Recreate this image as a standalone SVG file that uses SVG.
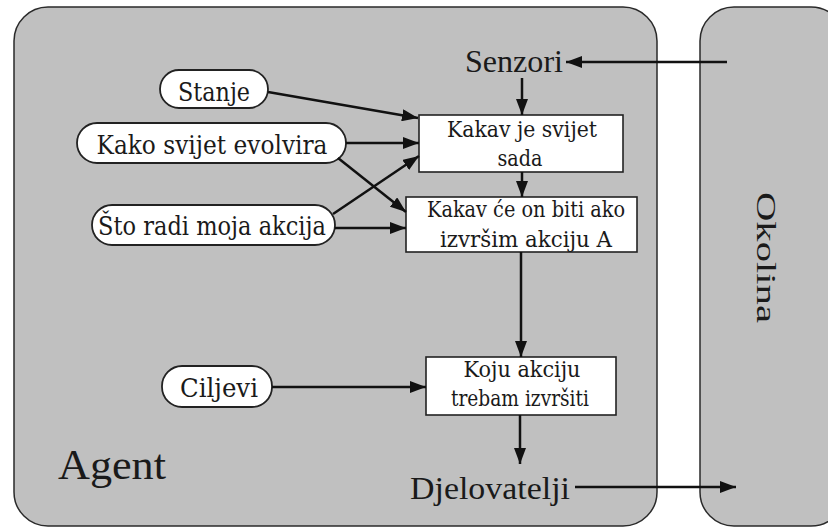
<svg xmlns="http://www.w3.org/2000/svg" width="828" height="528" viewBox="0 0 828 528">
<style>
.region{fill:#c0c0c0;stroke:#2a2a2a;stroke-width:1.5;}
.pill{fill:#ffffff;stroke:#222;stroke-width:1.8;}
.box{fill:#ffffff;stroke:#222;stroke-width:1.6;}
.conn line{stroke:#111;stroke-width:2.5;marker-end:url(#ah);}
</style>
<defs>
<marker id="ah" markerUnits="userSpaceOnUse" markerWidth="18" markerHeight="12" refX="16" refY="6" orient="auto">
<path d="M0,0 L16,6 L0,12 z" fill="#111"/>
</marker>
</defs>
<rect width="828" height="528" fill="#ffffff"/>
<g font-family="Times New Roman, serif" fill="#1a1a1a">
<g id="agent">
<rect class="region" x="14" y="7" width="643" height="519" rx="34" ry="34"/>
<text font-size="42" text-anchor="middle" x="112" y="479" textLength="108" lengthAdjust="spacingAndGlyphs">Agent</text>
</g>
<g id="okolina">
<rect class="region" x="700" y="7" width="145" height="519" rx="34" ry="34"/>
<text font-size="28" transform="translate(757,192) rotate(90)" textLength="131" lengthAdjust="spacingAndGlyphs">Okolina</text>
</g>
<g id="senzori">
<text font-size="32" text-anchor="middle" x="514" y="72" textLength="98" lengthAdjust="spacingAndGlyphs">Senzori</text>
</g>
<g id="djelovatelji">
<text font-size="32" text-anchor="middle" x="490" y="499" textLength="160" lengthAdjust="spacingAndGlyphs">Djelovatelji</text>
</g>
</g>
<g font-family="DejaVu Serif, serif" fill="#1a1a1a">
<g id="stanje">
<rect class="pill" x="160" y="70" width="108" height="38" rx="19"/>
<text font-size="26" text-anchor="middle" x="214" y="101" textLength="72" lengthAdjust="spacingAndGlyphs">Stanje</text>
</g>
<g id="kako">
<rect class="pill" x="77" y="123" width="269" height="40" rx="20"/>
<text font-size="26" text-anchor="middle" x="212" y="154" textLength="231" lengthAdjust="spacingAndGlyphs">Kako svijet evolvira</text>
</g>
<g id="sto">
<rect class="pill" x="92" y="205" width="243" height="40" rx="20"/>
<text font-size="26" text-anchor="middle" x="212" y="235" textLength="228" lengthAdjust="spacingAndGlyphs">Što radi moja akcija</text>
</g>
<g id="ciljevi">
<rect class="pill" x="162" y="366" width="110" height="41" rx="20"/>
<text font-size="26" text-anchor="middle" x="219" y="397" textLength="78" lengthAdjust="spacingAndGlyphs">Ciljevi</text>
</g>
<g id="svijet-sada">
<rect class="box" x="419" y="115" width="204" height="57"/>
<text font-size="22" text-anchor="middle" x="522" y="137" textLength="150" lengthAdjust="spacingAndGlyphs">Kakav je svijet</text>
<text font-size="22" text-anchor="middle" x="520" y="166" textLength="45" lengthAdjust="spacingAndGlyphs">sada</text>
</g>
<g id="svijet-akcija">
<rect class="box" x="406" y="197" width="231" height="55"/>
<text font-size="22" text-anchor="middle" x="526" y="217" textLength="198" lengthAdjust="spacingAndGlyphs">Kakav će on biti ako</text>
<text font-size="22" text-anchor="middle" x="526" y="247" textLength="172" lengthAdjust="spacingAndGlyphs">izvršim akciju A</text>
</g>
<g id="akcija">
<rect class="box" x="426" y="357" width="190" height="58"/>
<text font-size="22" text-anchor="middle" x="522" y="377" textLength="117" lengthAdjust="spacingAndGlyphs">Koju akciju</text>
<text font-size="22" text-anchor="middle" x="520" y="406" textLength="138" lengthAdjust="spacingAndGlyphs">trebam izvršiti</text>
</g>
</g>
<g id="connectors" class="conn">
<line x1="727" y1="62" x2="566" y2="62"/>
<line x1="522" y1="78" x2="522" y2="115"/>
<line x1="522" y1="172" x2="522" y2="197"/>
<line x1="521" y1="252" x2="521" y2="357"/>
<line x1="520" y1="415" x2="520" y2="464"/>
<line x1="575" y1="487" x2="736" y2="487"/>
<line x1="268" y1="92" x2="418" y2="118"/>
<line x1="346" y1="143" x2="419" y2="143"/>
<line x1="338" y1="158" x2="406" y2="212"/>
<line x1="333" y1="214" x2="419" y2="156"/>
<line x1="335" y1="228" x2="406" y2="228"/>
<line x1="272" y1="387" x2="426" y2="387"/>
</g>
</svg>
